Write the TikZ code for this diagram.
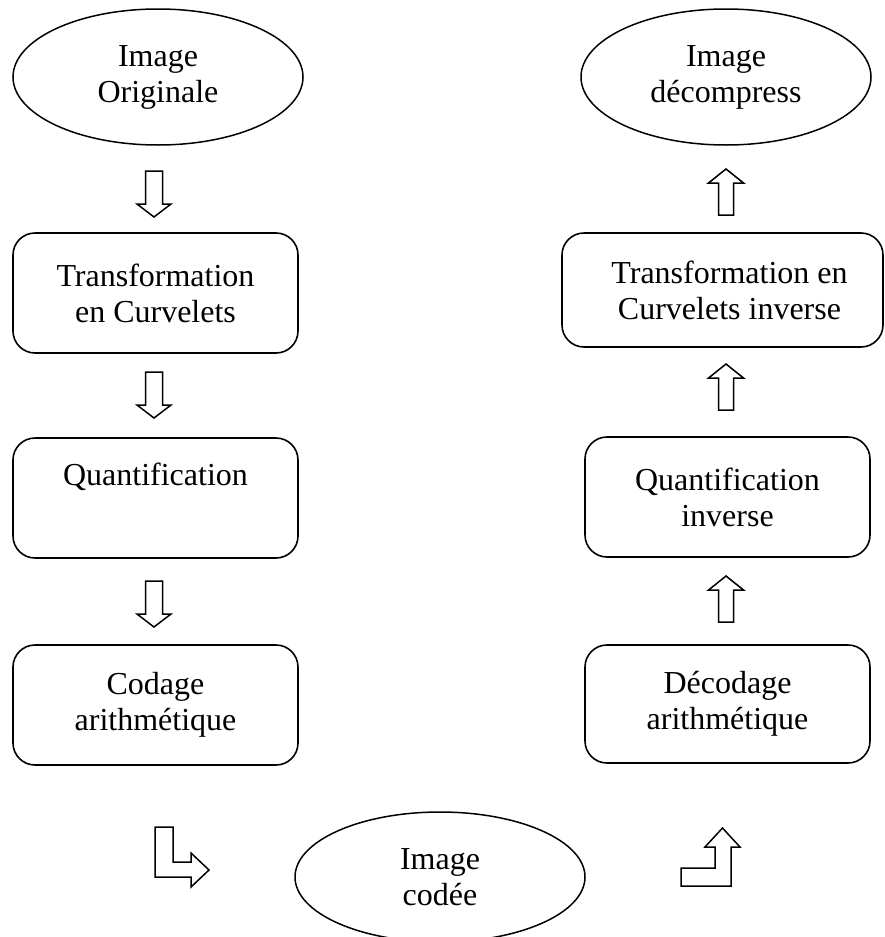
\documentclass[tikz,border=0pt]{standalone}
\usepackage{fontspec}
\setmainfont{Liberation Serif}
\usetikzlibrary{shapes.geometric}
\tikzset{
  lbl/.style={font=\fontsize{32}{36}\selectfont, align=center},
  ell/.style={lbl, draw, line width=1.5pt, ellipse, inner sep=0pt, minimum width=290pt, minimum height=136pt},
  rbox/.style={lbl, draw, line width=1.6pt, rectangle, rounded corners=22pt, inner sep=0pt, minimum width=285pt, minimum height=120pt},
  blk/.style={draw, line width=1.5pt, line join=miter, fill=white},
  downblk/.pic={\draw[blk] (-8.5,0) -- (8.5,0) -- (8.5,33) -- (17,33) -- (0,46) -- (-17,33) -- (-8.5,33) -- cycle;},
  upblk/.pic={\draw[blk] (0,0) -- (17.5,14) -- (7.5,14) -- (7.5,46) -- (-7.5,46) -- (-7.5,14) -- (-17.5,14) -- cycle;}
}
\begin{document}
\begin{tikzpicture}[x=1pt, y=-1pt]
\useasboundingbox (0,0) rectangle (884,937);
% ellipses
\node[ell] (orig) at (158,77) {Image\\Originale};
\node[ell] (dec) at (726,77) {Image\\décompress};
\node[ell, minimum height=130pt] (cod) at (440,877) {Image\\codée};
% left column
\node[rbox] (tc) at (155.5,293) {Transformation\\en Curvelets};
\node[rbox] (q) at (155.5,498) {Quantification\\\strut};
\node[rbox] (ca) at (155.5,705) {Codage\\arithmétique};
% right column
\node[rbox, minimum width=321pt, minimum height=114pt] (tci) at (722.5,290) {\hspace*{14pt}Transformation en\\\hspace*{14pt}Curvelets inverse};
\node[rbox] (qi) at (727.5,497) {Quantification\\inverse};
\node[rbox, minimum height=118pt] (da) at (727.5,704) {Décodage\\arithmétique};
% straight block arrows
\pic (a1) at (154,171) {downblk};
\pic (a2) at (154,372) {downblk};
\pic (a3) at (154,581) {downblk};
\pic (b1) at (726,169) {upblk};
\pic (b2) at (726,364) {upblk};
\pic (b3) at (726,576) {upblk};
% bent block arrows
\draw[blk] (155,827) -- (173,827) -- (173,862) -- (191,862) -- (191,853) -- (209,870) -- (191,887) -- (191,877) -- (155,877) -- cycle;
\draw[blk] (681,868) -- (715,868) -- (715,847) -- (705,847) -- (722.5,828) -- (740,847) -- (731,847) -- (731,886) -- (681,886) -- cycle;
\end{tikzpicture}
\end{document}
